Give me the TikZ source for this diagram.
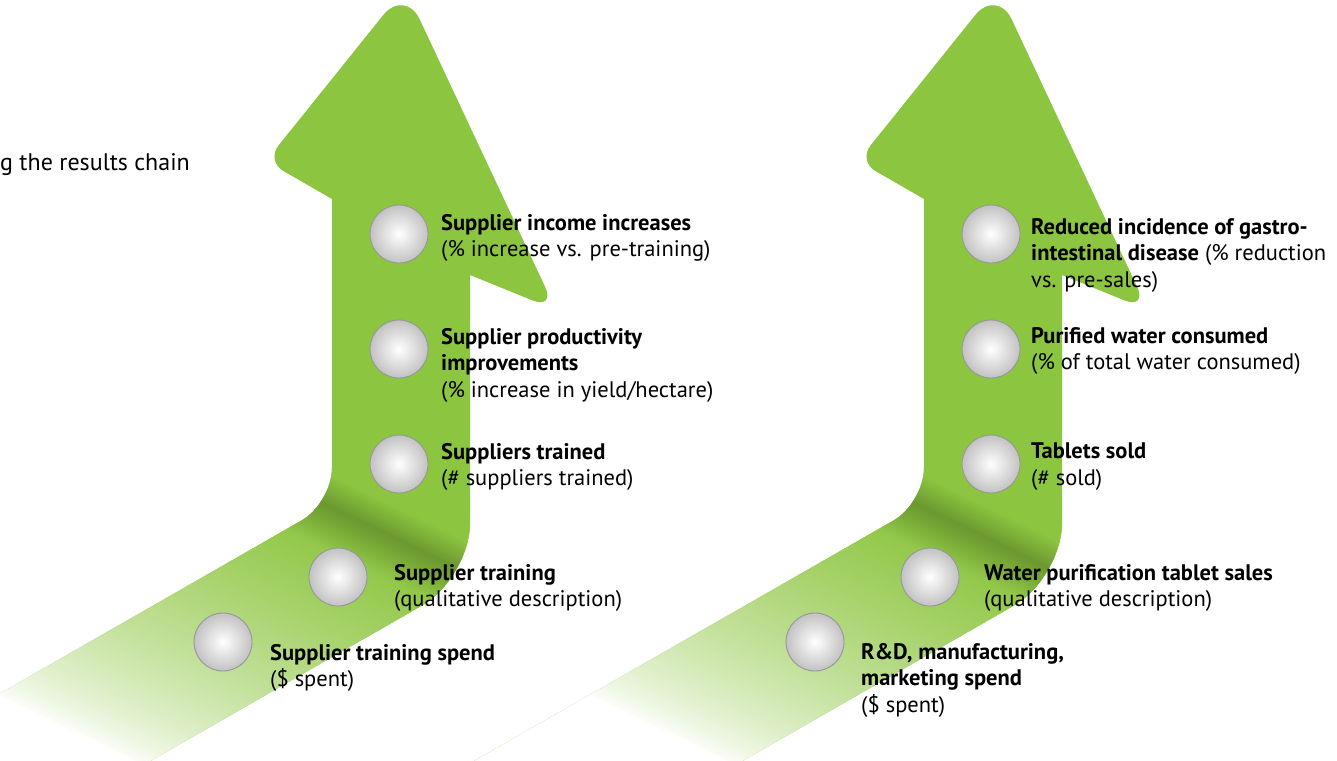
\documentclass[tikz,border=0pt]{standalone}
\usepackage{fontspec}
\setmainfont{PT Sans}
\usetikzlibrary{positioning}

\definecolor{leafgreen}{RGB}{140,197,63}
\definecolor{ballrim}{RGB}{150,150,156}

% outline of one bent arrow (pixel units, y going down)
\newcommand{\bentarrow}{(-200,808) [rounded corners=35pt] -- (332,503)
  [sharp corners] -- (332,199) [rounded corners=20pt] -- (266,161)
  [rounded corners=35pt] -- (405,-12) [rounded corners=26pt] -- (556,310)
  [sharp corners] -- (470,275) [rounded corners=55pt] -- (470,578)
  [sharp corners] -- (-50,876) -- cycle}

\tikzset{
  ball/.style={circle, minimum size=58pt, inner sep=0pt, draw=ballrim,
    line width=0.9pt, inner color=white, outer color=black!24},
  lbl/.style={anchor=north west, align=left, inner sep=0pt,
    font=\fontsize{22.5}{26.5}\selectfont}
}

\begin{document}
\begin{tikzpicture}[x=1pt, y=-1pt]
  \useasboundingbox (0,0) rectangle (1337,760);
  \clip (0,0) rectangle (1337,760);

  % the two arrows, fading out at the lower left
  \foreach \dx in {0,592} {
    \begin{scope}[shift={(\dx,0)}]
      \fill[leafgreen] \bentarrow;
      \begin{scope}
        \clip \bentarrow;
        \begin{scope}[shift={(332,503)}, rotate=64]
          \fill[white] (-900,-700) rectangle (-318,700);
          \foreach \u in {-320,-318,...,40} {
            \pgfmathsetmacro\p{100*(max(0.0001,min(1,(\u+320)/300)))^0.7}
            \pgfmathsetmacro\d{100-23*max(0,1-abs(\u+5)/((\u < -5) ? 40 : 28))}
            \fill[leafgreen!\p!white!\d!black] (\u,-700) rectangle (\u+2.6,700);
          }
        \end{scope}
      \end{scope}
    \end{scope}
  }

  \node[anchor=base west, inner sep=0pt, font=\fontsize{24}{26.5}\selectfont]
    (title) at (0,170) {g the results chain};

  % supplier chain
  \node[ball] (supspend) at (223,642) {};
  \node[ball] (suptrain) at (338,577) {};
  \node[ball] (suptrained) at (399,464) {};
  \node[ball] (supprod) at (399,349) {};
  \node[ball] (supincome) at (399,234) {};

  \node[lbl] (supspendtxt) at (270,644) {\textbf{Supplier training spend}\\(\$ spent)};
  \node[lbl] (suptraintxt) at (394,564) {\textbf{Supplier training}\\(qualitative description)};
  \node[lbl] (suptrainedtxt) at (441,443) {\textbf{Suppliers trained}\\(\# suppliers trained)};
  \node[lbl] (supprodtxt) at (441,328) {\textbf{Supplier productivity}\\\textbf{improvements}\\(\% increase in yield/hectare)};
  \node[lbl] (supincometxt) at (441,214) {\textbf{Supplier income increases}\\(\% increase vs. pre-training)};

  % tablet chain
  \node[ball] (tabspend) at (815,642) {};
  \node[ball] (tabsales) at (930,577) {};
  \node[ball] (tabsold) at (991,464) {};
  \node[ball] (tabwater) at (991,349) {};
  \node[ball] (tabhealth) at (991,234) {};

  \node[lbl] (tabspendtxt) at (861,643) {\textbf{R\&D, manufacturing,}\\\textbf{marketing spend}\\(\$ spent)};
  \node[lbl] (tabsalestxt) at (984,564) {\textbf{Water purification tablet sales}\\(qualitative description)};
  \node[lbl] (tabsoldtxt) at (1031,443) {\textbf{Tablets sold}\\(\# sold)};
  \node[lbl] (tabwatertxt) at (1031,327) {\textbf{Purified water consumed}\\(\% of total water consumed)};
  \node[lbl] (tabhealthtxt) at (1031,218) {\textbf{Reduced incidence of gastro-}\\\textbf{intestinal disease} (\% reduction\\vs. pre-sales)};
\end{tikzpicture}
\end{document}
